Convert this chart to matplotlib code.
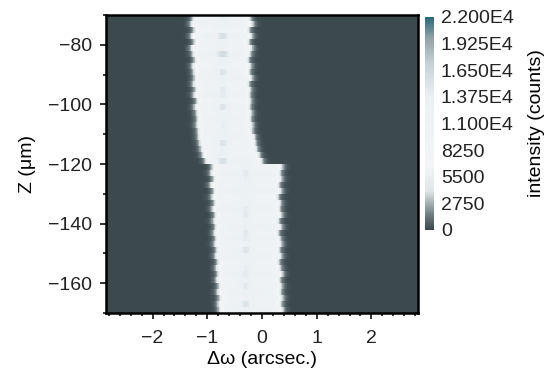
import numpy as np
import matplotlib
matplotlib.use("Agg")
import matplotlib.pyplot as plt
from matplotlib.colors import LinearSegmentedColormap
from matplotlib.ticker import MultipleLocator

plt.rcParams['font.family'] = ['Liberation Sans', 'DejaVu Sans']

# Row centres (Z, µm), top to bottom, 2 µm rows
z_rows = [-71, -73, -75, -77, -79, -81, -83, -85, -87, -89,
          -91, -93, -95, -97, -99, -101, -103, -105, -107, -109,
          -111, -113, -115, -117, -119,
          -121, -123, -125, -127, -129, -131, -133, -135, -137, -139,
          -141, -143, -145, -147, -149, -151, -153, -155, -157, -159,
          -161, -163, -165, -167, -169]

# Left and right edges of the bright band (arcsec) for each row
left_edge = [-1.24, -1.27, -1.22, -1.26, -1.21, -1.27, -1.23, -1.20, -1.25, -1.22,
             -1.20, -1.23, -1.19, -1.21, -1.17, -1.20, -1.17, -1.15, -1.17, -1.14,
             -1.13, -1.11, -1.09, -1.06, -1.00,
             -0.88, -0.90, -0.86, -0.91, -0.85, -0.89, -0.84, -0.87, -0.83, -0.86,
             -0.82, -0.85, -0.81, -0.84, -0.80, -0.82, -0.78, -0.81, -0.77, -0.80,
             -0.76, -0.78, -0.75, -0.77, -0.75]
right_edge = [-0.24, -0.20, -0.26, -0.22, -0.27, -0.21, -0.25, -0.28, -0.23, -0.26,
              -0.22, -0.27, -0.24, -0.26, -0.23, -0.25, -0.22, -0.24, -0.20, -0.21,
              -0.17, -0.15, -0.12, -0.08, -0.03,
              0.34, 0.30, 0.33, 0.28, 0.32, 0.27, 0.31, 0.29, 0.33, 0.28,
              0.32, 0.27, 0.30, 0.33, 0.29, 0.32, 0.28, 0.31, 0.34, 0.30,
              0.33, 0.31, 0.35, 0.32, 0.35]
# Plateau intensity of the band (counts) per row
peak_counts = [10500, 11500, 10000, 12000, 11000, 10500, 12500, 11000, 10000, 11500,
               12000, 10500, 11000, 12500, 10000, 11500, 11000, 12000, 10500, 11000,
               12000, 11500, 10500, 11000, 12000,
               11000, 12500, 10500, 11500, 12000, 10000, 11500, 12500, 11000, 10500,
               12000, 11000, 12500, 10500, 11500, 12000, 11000, 10500, 12500, 11500,
               11000, 12000, 10500, 11500, 12000]
# Slightly brighter inner streak position (arcsec) for top and bottom segments
streak_pos = [-0.72, -0.30]
streak_counts = 3500

cbar_ticks = [0, 2750, 5500, 8250, 11000, 13750, 16500, 19250, 22000]
cbar_labels = ['0', '2750', '5500', '8250', '1.100E4', '1.375E4', '1.650E4', '1.925E4', '2.200E4']

x_cols = np.arange(-2.85, 2.851, 0.01)
Z = np.zeros((len(z_rows), len(x_cols)))
w = 0.04
for i, (l, r, p) in enumerate(zip(left_edge, right_edge, peak_counts)):
    prof = 1 / (1 + np.exp(-(x_cols - l) / w)) * 1 / (1 + np.exp((x_cols - r) / w))
    sp = streak_pos[0] if z_rows[i] > -120 else streak_pos[1]
    streak = streak_counts * np.exp(-0.5 * ((x_cols - sp) / 0.08) ** 2) * (0.5 + 0.5 * ((i % 3) == 0))
    Z[i] = p * prof + streak * prof

cmap = LinearSegmentedColormap.from_list('ib', [
    (0.0, '#3d4a4d'), (0.07, '#6f7e82'), (0.18, '#dfe5e7'), (0.3, '#f3f5f6'),
    (0.62, '#ecf1f4'), (0.78, '#c6d2d8'), (0.9, '#93a2a7'), (1.0, '#2c6a76')])

fig = plt.figure(figsize=(5.47, 3.69), dpi=100)
ax = fig.add_axes([0.194, 0.152, 0.570, 0.807])
dz = 2
im = ax.imshow(Z, cmap=cmap, vmin=0, vmax=22000, aspect='auto', interpolation='nearest',
               extent=[x_cols[0], x_cols[-1], z_rows[-1] - dz / 2, z_rows[0] + dz / 2])
ax.set_xlim(-2.85, 2.85)
ax.set_ylim(-170, -70)
ax.set_xticks([-2, -1, 0, 1, 2])
ax.set_xticklabels(['\u22122', '\u22121', '0', '1', '2'])
ax.set_yticks([-80, -100, -120, -140, -160])
ax.set_yticklabels(['\u221280', '\u2212100', '\u2212120', '\u2212140', '\u2212160'])
ax.xaxis.set_minor_locator(MultipleLocator(0.2))
ax.yaxis.set_minor_locator(MultipleLocator(10))
ax.tick_params(which='major', direction='out', length=4, width=1.3, labelsize=14, colors='#222')
ax.tick_params(axis='x', which='major', pad=8)
ax.tick_params(axis='y', which='major', pad=6)
ax.tick_params(which='minor', direction='out', length=2.5, width=1.1)
for s in ax.spines.values():
    s.set_linewidth(1.8)
    s.set_color('black')
ax.set_xlabel('\u0394\u03c9 (arcsec.)', fontsize=14, labelpad=3)
ax.set_ylabel('Z (\u03bcm)', fontsize=14, labelpad=9)

cax = fig.add_axes([0.777, 0.377, 0.0165, 0.577])
cb = fig.colorbar(im, cax=cax)
cb.set_ticks(cbar_ticks)
cb.set_ticklabels(cbar_labels)
cb.outline.set_visible(False)
cax.tick_params(length=0, labelsize=14, pad=5, colors='#222')
cb.set_label('intensity (counts)', fontsize=14, labelpad=10)

fig.savefig('out.png', dpi=100)
